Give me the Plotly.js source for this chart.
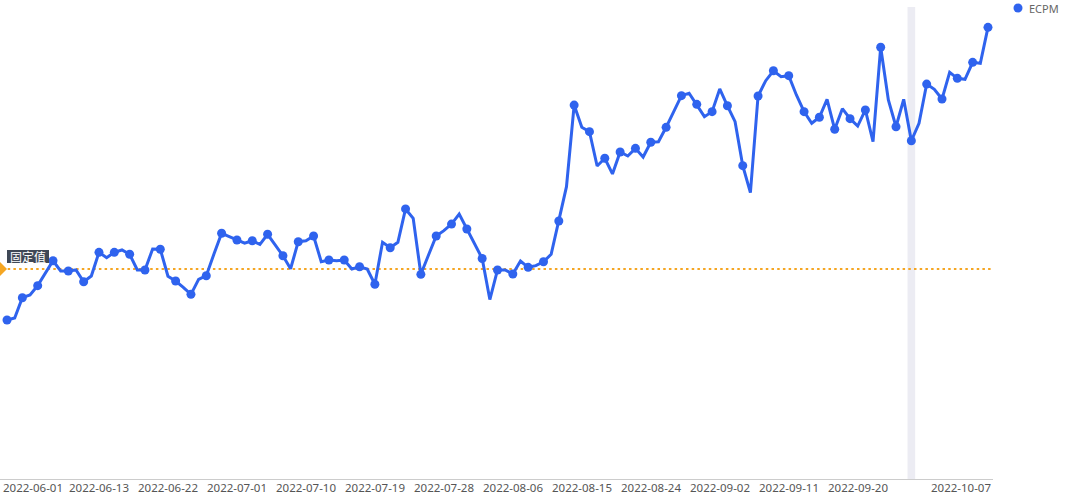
<!DOCTYPE html>
<html>
<head>
<meta charset="utf-8">
<script src="https://cdn.plot.ly/plotly-3.0.1.min.js"></script>
<style>
html,body{margin:0;padding:0;background:#fff;}
#chart{width:1080px;height:495px;}
</style>
</head>
<body>
<div id="chart"></div>
<script>
// ---- data ----
const startDate = '2022-06-01';
const dayCount = 129; // 2022-06-01 .. 2022-10-07
const ecpm = [
  11.36, 11.50, 12.95, 13.14, 13.81, 14.71, 15.59, 14.86, 14.86, 14.93,
  14.09, 14.50, 16.19, 15.81, 16.19, 16.36, 16.05, 14.93, 14.93, 16.43,
  16.41, 14.48, 14.14, 13.69, 13.19, 14.26, 14.52, 16.07, 17.55, 17.31,
  17.07, 16.84, 17.02, 16.76, 17.48, 16.71, 15.95, 15.02, 16.95, 17.02,
  17.36, 15.52, 15.64, 15.59, 15.64, 15.00, 15.16, 15.00, 13.91, 16.91,
  16.52, 16.91, 19.29, 18.62, 14.62, 16.00, 17.36, 17.74, 18.21, 18.93,
  17.86, 16.84, 15.75, 12.82, 14.93, 14.93, 14.64, 15.57, 15.12, 15.24,
  15.52, 16.05, 18.43, 20.88, 26.71, 25.12, 24.81, 22.36, 22.91, 21.79,
  23.36, 23.07, 23.62, 23.00, 24.05, 24.09, 25.12, 26.29, 27.38, 27.55,
  26.76, 25.88, 26.24, 27.86, 26.66, 25.52, 22.38, 20.45, 27.36, 28.45,
  29.16, 28.74, 28.81, 27.43, 26.24, 25.41, 25.84, 27.12, 24.98, 26.45,
  25.74, 25.21, 26.36, 24.09, 30.84, 27.07, 25.16, 27.12, 24.16, 25.41,
  28.21, 27.84, 27.14, 29.05, 28.62, 28.55, 29.76, 29.69, 32.26
];
const seriesName = 'ECPM';
const fixedValue = 15;
const fixedLabel = '固定值';
const tickDates = ['2022-06-13','2022-06-22','2022-07-01','2022-07-10','2022-07-19',
  '2022-07-28','2022-08-06','2022-08-15','2022-08-24','2022-09-02','2022-09-11','2022-09-20'];
const firstTickLabel = '2022-06-01';
const lastTickLabel = '2022-10-07';
const highlightDate = '2022-09-27';

// ---- build date categories ----
const dates = [];
{
  const d0 = new Date(startDate + 'T00:00:00Z');
  for (let i = 0; i < dayCount; i++) {
    const d = new Date(d0.getTime() + i * 86400000);
    dates.push(d.toISOString().slice(0, 10));
  }
}

const blue = '#2f63ee';
const orange = '#f5a623';
const markerSizes = ecpm.map((v, i) => (i % 2 === 0 ? 9 : 0));

// plot geometry (px)
const plotW = 993, plotH = 474;
const px = x => x / plotW;
const py = y => (479 - y) / plotH;
const labelY = py(487.5);

function shiftDate(s, hours) {
  const d = new Date(s + 'T00:00:00Z');
  d.setTime(d.getTime() + hours * 3600000);
  return d.toISOString().replace('T', ' ').slice(0, 19);
}

const traces = [{
  x: dates,
  y: ecpm,
  name: seriesName,
  type: 'scatter',
  mode: 'lines+markers',
  line: {color: blue, width: 3},
  marker: {color: blue, size: markerSizes, opacity: 1, line: {width: 0}},
  showlegend: false,
  hoverinfo: 'x+y'
}];

const tickFont = {size: 11.5, color: '#555'};
const tickAnnotations = tickDates.map(d => ({
  xref: 'x', yref: 'paper',
  x: d, y: labelY,
  xanchor: 'center', yanchor: 'middle',
  text: d, showarrow: false, font: tickFont, borderpad: 0
}));

const layout = {
  width: 1080,
  height: 495,
  margin: {l: 0, r: 87, t: 5, b: 16},
  paper_bgcolor: '#ffffff',
  plot_bgcolor: '#ffffff',
  showlegend: false,
  font: {family: '"Noto Sans", "Noto Sans CJK SC", sans-serif', size: 12, color: '#555'},
  xaxis: {
    type: 'date',
    range: [shiftDate(startDate, -22), shiftDate(lastTickLabel, 15.7)],
    showticklabels: false,
    showgrid: false,
    zeroline: false,
    showline: true,
    linecolor: '#cccccc',
    linewidth: 1,
    ticks: '',
    automargin: false,
    fixedrange: true
  },
  yaxis: {
    range: [0, plotH / 14],
    showgrid: false,
    zeroline: false,
    showline: false,
    showticklabels: false,
    ticks: '',
    automargin: false,
    fixedrange: true
  },
  shapes: [
    {
      type: 'rect', layer: 'below',
      xref: 'x', yref: 'paper',
      x0: shiftDate(highlightDate, -12), x1: shiftDate(highlightDate, 12),
      y0: 0, y1: py(7),
      fillcolor: '#ececf3', line: {width: 0}
    },
    {
      type: 'line', layer: 'below',
      xref: 'paper', yref: 'y',
      x0: px(2), x1: 1, y0: fixedValue, y1: fixedValue,
      line: {color: orange, width: 2, dash: '2.5px,3.2px'}
    },
    {
      type: 'path',
      xref: 'paper', yref: 'y',
      xsizemode: 'pixel', ysizemode: 'pixel',
      xanchor: 0, yanchor: fixedValue,
      path: 'M0,-7 L7,0 L0,7 Z',
      fillcolor: orange, line: {width: 0}
    },
    {
      type: 'rect',
      xref: 'paper', yref: 'paper',
      xsizemode: 'pixel', ysizemode: 'pixel',
      xanchor: 0, yanchor: py(256.5),
      x0: 7, x1: 49, y0: -6.5, y1: 6.5,
      fillcolor: '#3f4856', line: {width: 0}
    },
    {
      type: 'circle',
      xref: 'paper', yref: 'paper',
      xsizemode: 'pixel', ysizemode: 'pixel',
      xanchor: px(1018), yanchor: py(8),
      x0: -4.5, x1: 4.5, y0: -4.5, y1: 4.5,
      fillcolor: blue, line: {width: 0}
    }
  ],
  annotations: [
    {
      xref: 'paper', yref: 'paper',
      x: px(1027), y: py(8.5),
      xanchor: 'left', yanchor: 'middle',
      text: seriesName, showarrow: false,
      font: {size: 11, color: '#666'}
    },
    {
      xref: 'paper', yref: 'paper',
      x: px(28), y: py(256.5),
      xanchor: 'center', yanchor: 'middle',
      text: fixedLabel, showarrow: false,
      borderpad: 0,
      font: {size: 12, color: '#ffffff', family: '"Noto Sans CJK SC", sans-serif'}
    },
    {
      xref: 'paper', yref: 'paper',
      x: px(2), y: labelY,
      xanchor: 'left', yanchor: 'middle',
      text: firstTickLabel, showarrow: false,
      font: tickFont, borderpad: 0
    },
    {
      xref: 'paper', yref: 'paper',
      x: px(992), y: labelY,
      xanchor: 'right', yanchor: 'middle',
      text: lastTickLabel, showarrow: false,
      font: tickFont, borderpad: 0
    }
  ].concat(tickAnnotations)
};

Plotly.newPlot('chart', traces, layout, {displayModeBar: false});
</script>
</body>
</html>
